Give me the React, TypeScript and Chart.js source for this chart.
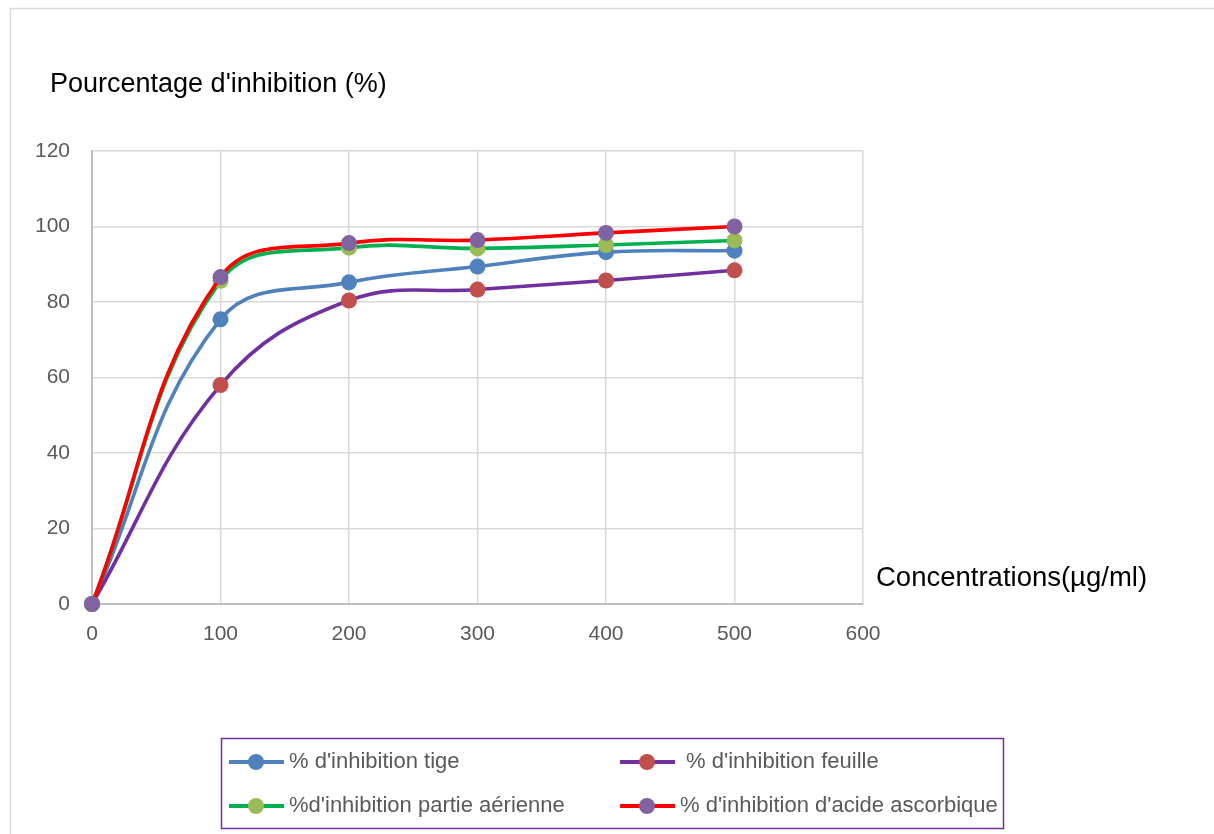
import { useEffect, useRef } from "react";
import { Chart, registerables } from "chart.js";

Chart.register(...registerables);

const concentrations = [0, 100, 200, 300, 400, 500];
const tige = [0, 75.4, 85.2, 89.4, 93.2, 93.6];
const feuille = [0, 58, 80.4, 83.3, 85.7, 88.4];
const partieAerienne = [0, 85.6, 94.4, 94.2, 95.1, 96.3];
const acideAscorbique = [0, 86.6, 95.6, 96.4, 98.3, 100];
const yTicks = [0, 20, 40, 60, 80, 100, 120];
const xTicks = [0, 100, 200, 300, 400, 500, 600];
const seriesLabels = [
  "% d'inhibition tige",
  " % d'inhibition feuille",
  "%d'inhibition partie aérienne",
  "% d'inhibition d'acide ascorbique",
];
const yTitle = "Pourcentage d'inhibition (%)";
const xTitle = "Concentrations(µg/ml)";

const lineColors = ["#4F81BD", "#7030A0", "#00B050", "#FF0000"];
const markerColors = ["#4F81BD", "#C0504D", "#9BBB59", "#8064A2"];
const FONT = "'Liberation Sans', Arial, sans-serif";

export default function App() {
  const ref = useRef<HTMLCanvasElement | null>(null);
  useEffect(() => {
    const canvas = ref.current;
    if (!canvas) return;
    const values = [tige, feuille, partieAerienne, acideAscorbique];
    const datasets = values.map((vals, i) => ({
      label: seriesLabels[i],
      data: concentrations.map((x, j) => ({ x, y: vals[j] })),
      showLine: true,
      borderColor: lineColors[i],
      backgroundColor: markerColors[i],
      pointBackgroundColor: markerColors[i],
      pointBorderColor: markerColors[i],
      pointRadius: 8,
      pointBorderWidth: 0,
      borderWidth: 3.6,
      tension: 0.4,
      clip: false,
      order: 3 - i,
    }));

    const decor = {
      id: "decor",
      beforeDraw(chart: any) {
        const ctx = chart.ctx;
        ctx.save();
        ctx.fillStyle = "#ffffff";
        ctx.fillRect(0, 0, chart.width, chart.height);
        ctx.strokeStyle = "#D9D9D9";
        ctx.lineWidth = 1.5;
        ctx.strokeRect(10.5, 8.5, chart.width + 20, chart.height + 20);
        ctx.restore();
      },
      afterDraw(chart: any) {
        const ctx = chart.ctx;
        const area = chart.chartArea;
        ctx.save();
        ctx.fillStyle = "#000000";
        ctx.font = `27px ${FONT}`;
        ctx.textBaseline = "middle";
        ctx.textAlign = "left";
        ctx.fillText(yTitle, area.left - 42, area.top - 66);
        ctx.font = `27.5px ${FONT}`;
        ctx.fillText(xTitle, area.right + 13, 578);

        // legend box
        ctx.strokeStyle = "#7030A0";
        ctx.lineWidth = 1.5;
        ctx.strokeRect(221.5, 738.5, 782, 90);
        const cols = [229, 620];
        const rows = [762, 806];
        ctx.font = `22px ${FONT}`;
        chart.data.datasets.forEach((ds: any, i: number) => {
          const x0 = cols[i % 2];
          const y = rows[Math.floor(i / 2)];
          ctx.strokeStyle = ds.borderColor;
          ctx.lineWidth = 4;
          ctx.beginPath();
          ctx.moveTo(x0, y);
          ctx.lineTo(x0 + 55, y);
          ctx.stroke();
          ctx.fillStyle = ds.pointBackgroundColor;
          ctx.beginPath();
          ctx.arc(x0 + 27, y, 8, 0, Math.PI * 2);
          ctx.fill();
          ctx.fillStyle = "#595959";
          ctx.fillText(ds.label, x0 + 60, y);
        });
        ctx.restore();
      },
    };

    const chart = new Chart(canvas, {
      type: "scatter",
      data: { datasets },
      plugins: [decor],
      options: {
        animation: false,
        responsive: false,
        layout: { padding: { left: 0, top: 151, right: 351, bottom: 180 } },
        plugins: { legend: { display: false }, tooltip: { enabled: false }, title: { display: false } },
        scales: {
          x: {
            type: "linear",
            min: 0,
            max: 600,
            afterBuildTicks: (s: any) => { s.ticks = xTicks.map((v) => ({ value: v })); },
            afterFit: (s: any) => { s.height = 50; },
            ticks: { color: "#595959", font: { size: 21, family: FONT }, padding: 18 },
            grid: { color: "#D9D9D9", lineWidth: 1.5, drawTicks: false },
            border: { color: "#BFBFBF", width: 2 },
          },
          y: {
            type: "linear",
            min: 0,
            max: 120,
            afterBuildTicks: (s: any) => { s.ticks = yTicks.map((v) => ({ value: v })); },
            afterFit: (s: any) => { s.width = 92; },
            ticks: { color: "#595959", font: { size: 21, family: FONT }, padding: 22 },
            grid: { color: "#D9D9D9", lineWidth: 1.5, drawTicks: false },
            border: { color: "#BFBFBF", width: 2 },
          },
        },
      },
    } as any);
    return () => chart.destroy();
  }, []);

  return (
    <div style={{ position: "absolute", left: 0, top: 0, width: 1214, height: 834 }}>
      <canvas ref={ref} width={1214} height={834} style={{ width: 1214, height: 834, display: "block" }} />
    </div>
  );
}
